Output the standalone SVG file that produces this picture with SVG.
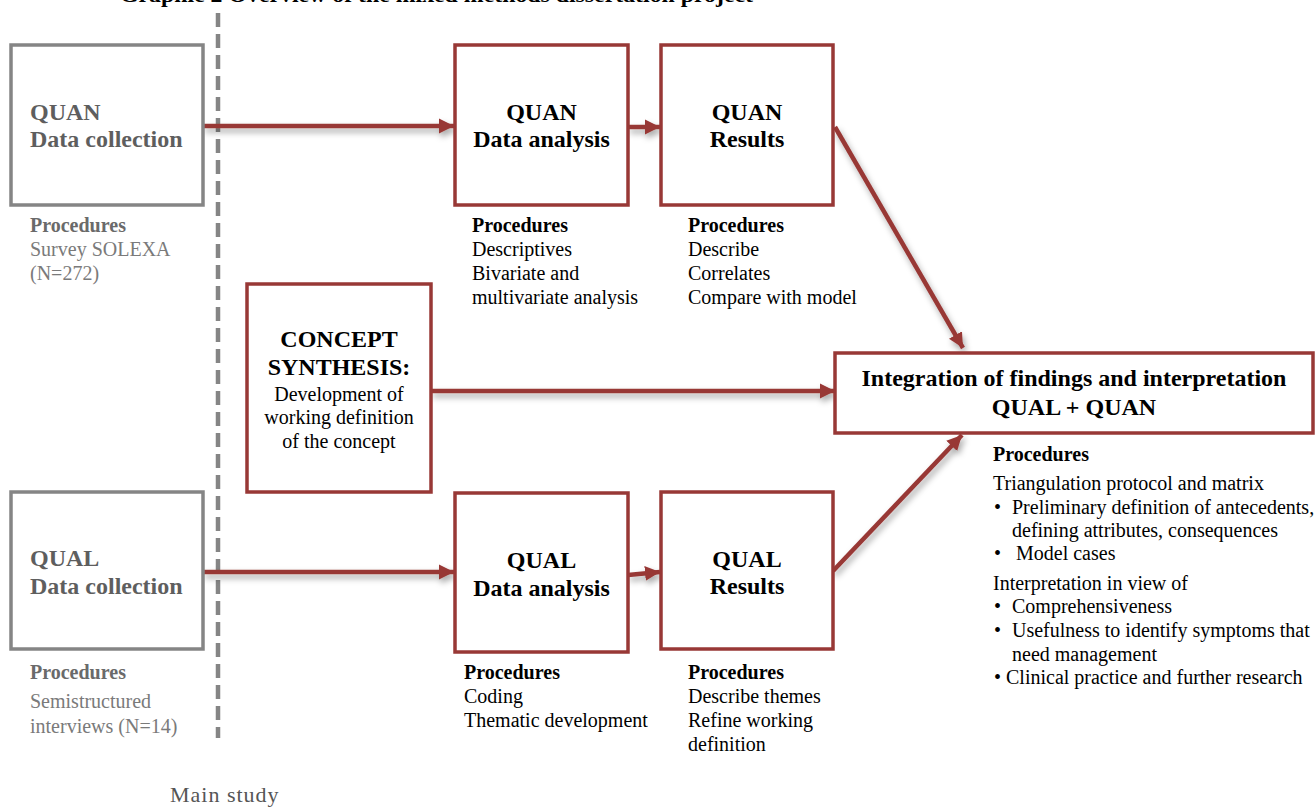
<svg xmlns="http://www.w3.org/2000/svg" width="1315" height="807" viewBox="0 0 1315 807">
<style>
  text { font-family: "Liberation Serif", "Times New Roman", serif; }
  .box { fill: #ffffff; stroke: #983836; stroke-width: 3.5; }
  .gbox { fill: #ffffff; stroke: #858585; stroke-width: 3.5; }
  .h { font-size: 24px; font-weight: bold; fill: #000; text-anchor: middle; }
  .gh { font-size: 24px; font-weight: bold; fill: #5e5e5e; }
  .ph { font-size: 20px; font-weight: bold; fill: #000; }
  .gph { font-size: 20px; font-weight: bold; fill: #6a6a6a; }
  .t { font-size: 20px; fill: #000; }
  .gt { font-size: 20px; fill: #7a7a7a; }
  .ct { font-size: 20px; fill: #000; text-anchor: middle; }
  .conn { stroke: #983836; stroke-width: 4.5; fill: none; marker-end: url(#arrow); }
</style>
<defs>
  <marker id="arrow" markerUnits="userSpaceOnUse" markerWidth="16" markerHeight="16" refX="15" refY="8" orient="auto">
    <path d="M0,0.5 L15,8 L0,15.5 Z" fill="#983836"/>
  </marker>
  <filter id="shadow" filterUnits="userSpaceOnUse" x="0" y="0" width="1315" height="807">
    <feDropShadow dx="2" dy="4" stdDeviation="3" flood-color="#000" flood-opacity="0.35"/>
  </filter>
</defs>
<rect width="1315" height="807" fill="#ffffff"/>

<text id="title" x="120" y="1.5" font-size="20" font-weight="bold" fill="#000" textLength="633" lengthAdjust="spacingAndGlyphs">Graphic 2 Overview of the mixed methods dissertation project</text>

<line id="divider" x1="218" y1="13" x2="218" y2="738" stroke="#858585" stroke-width="4.5" stroke-dasharray="14 7"/>

<g id="connectors" filter="url(#shadow)">
  <line class="conn" x1="203" y1="126" x2="454" y2="126"/>
  <line class="conn" x1="628" y1="127" x2="660" y2="127"/>
  <line class="conn" x1="835" y1="127" x2="963" y2="348"/>
  <line class="conn" x1="431" y1="391" x2="835" y2="391"/>
  <line class="conn" x1="203" y1="572" x2="454" y2="572"/>
  <line class="conn" x1="628" y1="575" x2="660" y2="572"/>
  <line class="conn" x1="833" y1="571" x2="962" y2="435"/>
</g>

<g id="quan-collection">
  <rect class="gbox" x="11" y="45" width="192" height="160"/>
  <text class="gh" x="30" y="120">QUAN</text>
  <text class="gh" x="30" y="147">Data collection</text>
  <text class="gph" x="30" y="232">Procedures</text>
  <text class="gt" x="30" y="256">Survey SOLEXA</text>
  <text class="gt" x="30" y="280">(N=272)</text>
</g>

<g id="quan-analysis">
  <rect class="box" x="455" y="45" width="173" height="160"/>
  <text class="h" x="541.5" y="120">QUAN</text>
  <text class="h" x="541.5" y="147">Data analysis</text>
  <text class="ph" x="472" y="232">Procedures</text>
  <text class="t" x="472" y="256">Descriptives</text>
  <text class="t" x="472" y="280">Bivariate and</text>
  <text class="t" x="472" y="304">multivariate analysis</text>
</g>

<g id="quan-results">
  <rect class="box" x="661" y="45" width="172" height="160"/>
  <text class="h" x="747" y="120">QUAN</text>
  <text class="h" x="747" y="147">Results</text>
  <text class="ph" x="688" y="232">Procedures</text>
  <text class="t" x="688" y="256">Describe</text>
  <text class="t" x="688" y="280">Correlates</text>
  <text class="t" x="688" y="304">Compare with model</text>
</g>

<g id="concept-synthesis">
  <rect class="box" x="247" y="284" width="184" height="208"/>
  <text class="h" x="339" y="347">CONCEPT</text>
  <text class="h" x="339" y="375">SYNTHESIS:</text>
  <text class="ct" x="339" y="401">Development of</text>
  <text class="ct" x="339" y="424">working definition</text>
  <text class="ct" x="339" y="448">of the concept</text>
</g>

<g id="integration">
  <rect class="box" x="835" y="353" width="478" height="80"/>
  <text class="h" x="1074" y="386">Integration of findings and interpretation</text>
  <text class="h" x="1074" y="415">QUAL + QUAN</text>
  <text class="ph" x="993" y="461">Procedures</text>
  <text class="t" x="993" y="490">Triangulation protocol and matrix</text>
  <text class="t" x="994" y="514">•</text>
  <text class="t" x="1012" y="514">Preliminary definition of antecedents,</text>
  <text class="t" x="1012" y="537">defining attributes, consequences</text>
  <text class="t" x="994" y="560">•</text>
  <text class="t" x="1016" y="560">Model cases</text>
  <text class="t" x="993" y="590">Interpretation in view of</text>
  <text class="t" x="994" y="613">•</text>
  <text class="t" x="1012" y="613">Comprehensiveness</text>
  <text class="t" x="994" y="637">•</text>
  <text class="t" x="1012" y="637">Usefulness to identify symptoms that</text>
  <text class="t" x="1012" y="661">need management</text>
  <text class="t" x="994" y="684">•</text>
  <text class="t" x="1006" y="684">Clinical practice and further research</text>
</g>

<g id="qual-collection">
  <rect class="gbox" x="11" y="492" width="192" height="157"/>
  <text class="gh" x="30" y="566">QUAL</text>
  <text class="gh" x="30" y="594">Data collection</text>
  <text class="gph" x="30" y="679">Procedures</text>
  <text class="gt" x="30" y="708">Semistructured</text>
  <text class="gt" x="30" y="733">interviews (N=14)</text>
</g>

<g id="qual-analysis">
  <rect class="box" x="455" y="493" width="173" height="159"/>
  <text class="h" x="541.5" y="568">QUAL</text>
  <text class="h" x="541.5" y="596">Data analysis</text>
  <text class="ph" x="464" y="679">Procedures</text>
  <text class="t" x="464" y="703">Coding</text>
  <text class="t" x="464" y="727">Thematic development</text>
</g>

<g id="qual-results">
  <rect class="box" x="661" y="492" width="172" height="157"/>
  <text class="h" x="747" y="567">QUAL</text>
  <text class="h" x="747" y="594">Results</text>
  <text class="ph" x="688" y="679">Procedures</text>
  <text class="t" x="688" y="703">Describe themes</text>
  <text class="t" x="688" y="727">Refine working</text>
  <text class="t" x="688" y="751">definition</text>
</g>

<text id="main-study" x="170" y="802" font-size="22" fill="#555" letter-spacing="1">Main study</text>
</svg>
